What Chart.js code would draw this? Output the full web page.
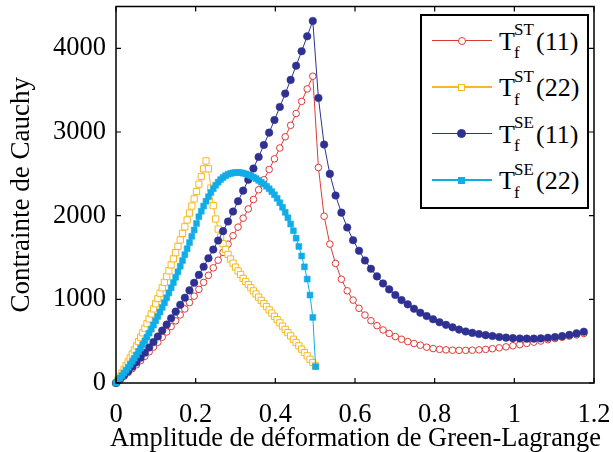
<!DOCTYPE html>
<html>
<head>
<meta charset="utf-8">
<script src="https://cdn.jsdelivr.net/npm/chart.js@4.4.1/dist/chart.umd.min.js"></script>
<style>
  html, body { margin: 0; padding: 0; background: #fff; }
  #wrap { position: relative; width: 613px; height: 452px; overflow: hidden; }
  #c { position: absolute; left: 0; top: 0; }
  #legend { position: absolute; left: 420px; top: 14px; width: 165px; height: 191px;
            border: 2px solid #000; background: #fff; }
  .lg { position: absolute; font-family: 'Liberation Serif', 'DejaVu Serif', serif; color: #000; white-space: nowrap; }
  .big { font-size: 26px; line-height: 26px; }
  .small { font-size: 17px; line-height: 17px; }
  .ln { position: absolute; height: 1.5px; }
  .mk { position: absolute; box-sizing: border-box; }
  #xtitle { position: absolute; left: 355.5px; top: 424px; transform: translateX(-50%);
            font-family: 'Liberation Serif', 'DejaVu Serif', serif; font-size: 26.4px; line-height: 26.4px;
            color: #000; white-space: nowrap; }
</style>
</head>
<body>
<div id="wrap">
  <canvas id="c" width="613" height="452"></canvas>
  <div id="xtitle"></div>
  <div id="legend"></div>
</div>
<script>
// ---------- data ----------
// strain grid for the (11) curves
const strain11 = [0, 0.01005, 0.0202, 0.03045, 0.0408, 0.05125, 0.0618, 0.07245, 0.0832, 0.09405,
  0.105, 0.11605, 0.1272, 0.13845, 0.1498, 0.16125, 0.1728, 0.18445, 0.1962, 0.20805,
  0.22, 0.23205, 0.2442, 0.25645, 0.2688, 0.28125, 0.2938, 0.30645, 0.3192, 0.33205,
  0.345, 0.35805, 0.3712, 0.38445, 0.3978, 0.41125, 0.4248, 0.43845, 0.4522, 0.46605,
  0.48, 0.49405, 0.5082, 0.52245, 0.5368, 0.55125, 0.5658, 0.58045, 0.5952, 0.61005,
  0.625, 0.64005, 0.6552, 0.67045, 0.6858, 0.70125, 0.7168, 0.73245, 0.7482, 0.76405,
  0.78, 0.79605, 0.8122, 0.82845, 0.8448, 0.86125, 0.8778, 0.89445, 0.9112, 0.92805,
  0.945, 0.96205, 0.9792, 0.99645, 1.0138, 1.03125, 1.0488, 1.06645, 1.0842, 1.10205,
  1.12, 1.13805, 1.1562, 1.17445];
// strain grid for the (22) curves
const strain22 = [0, 0.0050, 0.0101, 0.0151, 0.0202, 0.0253, 0.0305, 0.0356, 0.0408, 0.0460,
  0.0513, 0.0565, 0.0618, 0.0671, 0.0725, 0.0778, 0.0832, 0.0886, 0.0941, 0.0995,
  0.1050, 0.1105, 0.1161, 0.1216, 0.1272, 0.1328, 0.1385, 0.1441, 0.1498, 0.1555,
  0.1613, 0.1670, 0.1728, 0.1786, 0.1845, 0.1903, 0.1962, 0.2021, 0.2081, 0.2140,
  0.2200, 0.2260, 0.2321, 0.2381, 0.2442, 0.2503, 0.2565, 0.2626, 0.2688, 0.2750,
  0.2813, 0.2875, 0.2938, 0.3001, 0.3065, 0.3128, 0.3192, 0.3256, 0.3321, 0.3385,
  0.3450, 0.3515, 0.3581, 0.3646, 0.3712, 0.3778, 0.3845, 0.3911, 0.3978, 0.4045,
  0.4113, 0.4180, 0.4248, 0.4316, 0.4385, 0.4453, 0.4522, 0.4591, 0.4661, 0.4730,
  0.4800, 0.4870, 0.4941, 0.5011];

const stressST11 = [0, 40, 81, 125, 171, 218, 268, 319, 373, 429,
  487, 548, 610, 675, 743, 813, 885, 961, 1038, 1119,
  1202, 1287, 1376, 1468, 1562, 1659, 1760, 1863, 1970, 2080,
  2193, 2309, 2429, 2552, 2679, 2809, 2943, 3080, 3221, 3366,
  3515, 3667, 2575, 1993, 1660, 1429, 1240, 1102, 991, 893,
  812, 744, 685, 634, 592, 555, 523, 495, 472, 452,
  428, 412, 402, 396, 392, 390, 390, 392, 396, 402,
  410, 420, 432, 445, 459, 473, 488, 502, 517, 531,
  546, 560, 575, 592];

const stressST22 = [0, 39, 80, 121, 164, 208, 253, 299, 346, 394,
  444, 495, 547, 600, 655, 710, 767, 826, 886, 947,
  1009, 1073, 1138, 1204, 1272, 1341, 1412, 1484, 1558, 1633,
  1710, 1788, 1867, 1948, 2031, 2115, 2201, 2288, 2377, 2468,
  2560, 2654, 2560, 2330, 2120, 1960, 1840, 1745, 1665, 1597,
  1537, 1482, 1432, 1385, 1340, 1297, 1250, 1213, 1176, 1139,
  1101, 1064, 1026, 988, 950, 912, 874, 836, 797, 758,
  719, 680, 641, 602, 563, 523, 484, 444, 404, 364,
  324, 284, 244, 204];

const stressSE11 = [0, 45, 92, 141, 193, 247, 303, 362, 424, 489,
  556, 626, 698, 774, 853, 934, 1019, 1107, 1198, 1292,
  1390, 1491, 1595, 1703, 1815, 1930, 2049, 2172, 2299, 2429,
  2564, 2702, 2845, 2992, 3143, 3299, 3459, 3623, 3792, 3966,
  4144, 4327, 3407, 2850, 2499, 2241, 2036, 1859, 1707, 1580,
  1465, 1365, 1274, 1190, 1119, 1051, 991, 940, 887, 840,
  800, 762, 726, 695, 665, 638, 616, 599, 585, 572,
  561, 550, 542, 536, 532, 530, 530, 533, 540, 549,
  560, 575, 593, 613];

const stressSE22 = [0, 28, 58, 89, 120, 153, 187, 223, 259, 297,
  336, 376, 417, 460, 504, 549, 596, 644, 693, 744,
  796, 849, 904, 960, 1018, 1077, 1138, 1200, 1264, 1329,
  1396, 1464, 1534, 1605, 1678, 1753, 1829, 1907, 1987, 2053,
  2115, 2173, 2227, 2277, 2323, 2364, 2400, 2431, 2457, 2478,
  2494, 2505, 2512, 2516, 2517, 2514, 2508, 2500, 2489, 2476,
  2461, 2443, 2422, 2400, 2378, 2352, 2322, 2288, 2250, 2207,
  2155, 2100, 2040, 1975, 1900, 1820, 1731, 1632, 1518, 1388,
  1242, 1051, 784, 195];

const xTickValues = [0, 0.2, 0.4, 0.6, 0.8, 1, 1.2];
const xTickLabels = ['0', '0.2', '0.4', '0.6', '0.8', '1', '1.2'];
const yTickValues = [0, 1000, 2000, 3000, 4000];
const yTickLabels = ['0', '1000', '2000', '3000', '4000'];

const xTitle = 'Amplitude de déformation de Green-Lagrange';
const yTitle = 'Contrainte de Cauchy';

const seriesNames = [
  { sup: 'ST', idx: '(11)' },
  { sup: 'ST', idx: '(22)' },
  { sup: 'SE', idx: '(11)' },
  { sup: 'SE', idx: '(22)' }
];

// ---------- styles ----------
const RED = '#dc3b35';
const YEL = '#f6b824';
const BLU = '#2e3192';
const CYA = '#12ade6';

function pts(xs, ys) { return xs.map((x, i) => ({ x: x, y: ys[i] })); }

const SERIF = "'Liberation Serif', 'DejaVu Serif', serif";

const frame = {
  id: 'frame',
  afterDatasetsDraw(chart) {
    const a = chart.chartArea, ctx = chart.ctx;
    const xs = chart.scales.x, ys = chart.scales.y;
    ctx.save();
    ctx.strokeStyle = '#000';
    ctx.lineWidth = 1.5;
    ctx.strokeRect(a.left, a.top, a.right - a.left, a.bottom - a.top);
    ctx.lineWidth = 1.2;
    ctx.beginPath();
    const L = 5;
    xTickValues.forEach(v => {
      const px = xs.getPixelForValue(v);
      ctx.moveTo(px, a.bottom); ctx.lineTo(px, a.bottom - L);
      ctx.moveTo(px, a.top); ctx.lineTo(px, a.top + L);
    });
    yTickValues.forEach(v => {
      const py = ys.getPixelForValue(v);
      ctx.moveTo(a.left, py); ctx.lineTo(a.left + L, py);
      ctx.moveTo(a.right, py); ctx.lineTo(a.right - L, py);
    });
    ctx.stroke();
    ctx.restore();
  }
};

new Chart(document.getElementById('c'), {
  type: 'line',
  data: {
    datasets: [
      { label: 'ST11', data: pts(strain11, stressST11), borderColor: RED, borderWidth: 1,
        pointStyle: 'circle', pointRadius: 3.3, pointBorderWidth: 1, pointBorderColor: RED,
        pointBackgroundColor: '#fff', order: 4, clip: false },
      { label: 'ST22', data: pts(strain22, stressST22), borderColor: YEL, borderWidth: 1,
        pointStyle: 'rect', pointRadius: 4.4, pointBorderWidth: 1, pointBorderColor: YEL,
        pointBackgroundColor: '#fff', order: 3, clip: false },
      { label: 'SE11', data: pts(strain11, stressSE11), borderColor: BLU, borderWidth: 1,
        pointStyle: 'circle', pointRadius: 3.8, pointBorderWidth: 0.5, pointBorderColor: BLU,
        pointBackgroundColor: BLU, order: 2, clip: false },
      { label: 'SE22', data: pts(strain22, stressSE22), borderColor: CYA, borderWidth: 1,
        pointStyle: 'rect', pointRadius: 4.2, pointBorderWidth: 0.5, pointBorderColor: CYA,
        pointBackgroundColor: CYA, order: 1, clip: false }
    ]
  },
  options: {
    responsive: false,
    animation: false,
    events: [],
    layout: { padding: { left: 0, right: 19, top: 6.5, bottom: 0 } },
    plugins: { legend: { display: false }, tooltip: { enabled: false } },
    elements: { line: { tension: 0 } },
    scales: {
      x: {
        type: 'linear', min: 0, max: 1.2,
        grid: { display: false, drawTicks: false },
        border: { display: false },
        afterBuildTicks: s => { s.ticks = xTickValues.map(v => ({ value: v })); },
        afterFit: s => { s.height = 69; s.paddingLeft = 0; s.paddingRight = 0; },
        ticks: { color: '#000', font: { family: SERIF, size: 26.5 }, padding: 16,
                 maxRotation: 0, autoSkip: false, callback: (v, i) => xTickLabels[i] },
        title: { display: false }
      },
      y: {
        type: 'linear', min: 0, max: 4500,
        grid: { display: false, drawTicks: false },
        border: { display: false },
        afterBuildTicks: s => { s.ticks = yTickValues.map(v => ({ value: v })); },
        afterFit: s => { s.width = 116; s.paddingTop = 0; s.paddingBottom = 0; },
        ticks: { color: '#000', font: { family: SERIF, size: 26.5 }, padding: 10,
                 autoSkip: false, callback: (v, i) => yTickLabels[i] },
        title: { display: true, text: yTitle, color: '#000',
                 font: { family: SERIF, size: 27, lineHeight: 1 }, padding: { top: 8, bottom: 0 } }
      }
    }
  },
  plugins: [frame]
});

document.getElementById('xtitle').textContent = xTitle;

// ---------- legend (HTML) ----------
const legend = document.getElementById('legend');
const legStyles = [
  { color: RED, shape: 'circle', fill: '#fff', size: 8 },
  { color: YEL, shape: 'square', fill: '#fff', size: 7 },
  { color: BLU, shape: 'circle', fill: BLU, size: 9 },
  { color: CYA, shape: 'square', fill: CYA, size: 7 }
];
const LX = 420 + 2, LY = 14 + 2; // inner origin of legend box (after border)
const BIGB = 0.8375 * 26, SMB = 0.8375 * 17;
seriesNames.forEach((s, i) => {
  const st = legStyles[i];
  const cy = 40.7 + 46.45 * i - LY;
  const ln = document.createElement('div');
  ln.className = 'ln';
  ln.style.left = (432 - LX) + 'px'; ln.style.width = '60px';
  ln.style.top = (cy - 0.75) + 'px'; ln.style.background = st.color;
  legend.appendChild(ln);
  const mk = document.createElement('div');
  mk.className = 'mk';
  mk.style.width = st.size + 'px'; mk.style.height = st.size + 'px';
  mk.style.left = (461.7 - LX - st.size / 2) + 'px';
  mk.style.top = (cy - st.size / 2) + 'px';
  mk.style.background = st.fill;
  mk.style.border = '1.2px solid ' + st.color;
  if (st.shape === 'circle') mk.style.borderRadius = '50%';
  legend.appendChild(mk);
  const t = document.createElement('span');
  t.className = 'lg big'; t.textContent = 'T';
  t.style.left = (499 - LX) + 'px'; t.style.top = (cy + 10 - BIGB) + 'px';
  legend.appendChild(t);
  const sp = document.createElement('span');
  sp.className = 'lg small'; sp.textContent = s.sup;
  sp.style.left = (514 - LX) + 'px'; sp.style.top = (cy - 5 - SMB) + 'px';
  legend.appendChild(sp);
  const sb = document.createElement('span');
  sb.className = 'lg small'; sb.textContent = 'f';
  sb.style.left = (514 - LX) + 'px'; sb.style.top = (cy + 18 - SMB) + 'px';
  legend.appendChild(sb);
  const ix = document.createElement('span');
  ix.className = 'lg big'; ix.textContent = s.idx;
  ix.style.left = (536 - LX) + 'px'; ix.style.top = (cy + 10 - BIGB) + 'px';
  legend.appendChild(ix);
});
</script>
</body>
</html>
